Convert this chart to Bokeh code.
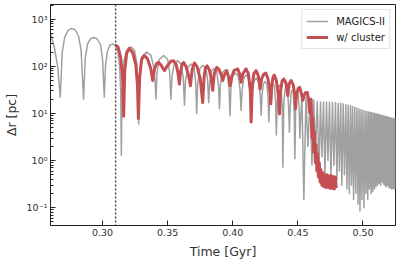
from bokeh.plotting import figure
from bokeh.models import Range1d, FixedTicker, CustomJSTickFormatter, Span, Legend
from bokeh.embed import file_html
from bokeh.resources import INLINE

# ---- data ----
gray_pts = [
    (0.2600, 480), (0.2630, 250), (0.2655, 100), (0.2675, 22),
    (0.2690, 200), (0.2710, 420), (0.2735, 580), (0.2762, 640), (0.2790, 590), (0.2815, 440), (0.2835, 220), (0.2854, 20),
    (0.2866, 140), (0.2885, 300), (0.2910, 390), (0.2935, 410), (0.2960, 380), (0.2985, 280), (0.3000, 140), (0.3013, 22),
    (0.3023, 110), (0.3038, 210), (0.3055, 280), (0.3078, 300), (0.3100, 280), (0.3118, 200), (0.3132, 90), (0.3140, 25), (0.3144, 1.3),
    (0.3150, 30), (0.3165, 130), (0.3185, 220), (0.3218, 260), (0.3245, 220), (0.3262, 120), (0.3272, 40), (0.3277, 6),
    (0.3287, 80), (0.3302, 160), (0.3338, 200), (0.3372, 170), (0.3392, 100), (0.3404, 45), (0.3410, 20),
    (0.3418, 70), (0.3435, 140), (0.3469, 170), (0.3500, 140), (0.3515, 75), (0.3525, 20),
    (0.3533, 60), (0.3550, 115), (0.3577, 132), (0.3605, 110), (0.3620, 55), (0.3629, 15),
    (0.3637, 50), (0.3655, 95), (0.3679, 112), (0.3702, 95), (0.3715, 45), (0.3723, 10),
    (0.3731, 45), (0.3748, 90), (0.3771, 105), (0.3795, 88), (0.3807, 50), (0.3815, 17),
    (0.3823, 45), (0.3838, 80), (0.3856, 90), (0.3877, 78), (0.3890, 40), (0.3898, 12.6),
    (0.3905, 40), (0.3920, 72), (0.3937, 84), (0.3958, 72), (0.3971, 35), (0.3979, 9),
    (0.3986, 35), (0.4000, 62), (0.4020, 72), (0.4042, 62), (0.4056, 32), (0.4064, 11.5),
    (0.4071, 30), (0.4085, 56), (0.4103, 66), (0.4122, 55), (0.4134, 28), (0.4141, 7.3),
    (0.4148, 26), (0.4162, 48), (0.4180, 56), (0.4200, 46), (0.4211, 24), (0.4218, 9.2),
    (0.4225, 25), (0.4235, 42), (0.4248, 48), (0.4262, 42), (0.4271, 22), (0.4277, 6.6),
    (0.4284, 22), (0.4295, 38), (0.4306, 44), (0.4320, 38), (0.4329, 18), (0.4335, 3.5),
    (0.4342, 18), (0.4350, 34), (0.4360, 40), (0.4372, 34), (0.4380, 14), (0.4385, 0.72),
    (0.4392, 15), (0.4400, 30), (0.4410, 36), (0.4421, 30), (0.4430, 12), (0.4435, 4),
    (0.4441, 14), (0.4448, 27), (0.4456, 32), (0.4465, 27), (0.4472, 11), (0.4477, 1.1),
    (0.4483, 12), (0.4490, 24), (0.4496, 28), (0.4504, 24), (0.4511, 10), (0.4515, 3),
    (0.4531, 25), (0.4546, 0.15), (0.4562, 22), (0.4577, 2), (0.4593, 20), (0.4608, 0.8),
    (0.4622, 19), (0.4635, 1.5), (0.4649, 18), (0.4662, 0.6), (0.4674, 17.5), (0.4685, 1.2),
    (0.4697, 17.5), (0.4708, 0.5), (0.4720, 17.5), (0.4731, 1.0), (0.4743, 17.5), (0.4754, 0.45),
    (0.4766, 17), (0.4777, 0.8), (0.4789, 17), (0.4800, 0.4), (0.4810, 16.5), (0.4819, 0.6),
    (0.4829, 16.5), (0.4838, 0.3), (0.4848, 16), (0.4858, 0.5), (0.4868, 15.5), (0.4877, 0.25),
    (0.4886, 15), (0.4895, 0.2), (0.4904, 14.5), (0.4912, 0.3), (0.4920, 14), (0.4928, 0.15),
    (0.4937, 13.5), (0.4945, 0.2), (0.4954, 13), (0.4962, 0.12), (0.4970, 12.5), (0.4977, 0.085),
    (0.4985, 12), (0.4992, 0.15), (0.5000, 11.6), (0.5008, 0.1), (0.5016, 11.3), (0.5023, 0.2),
    (0.5030, 11), (0.5037, 0.15), (0.5044, 10.8), (0.5050, 0.25), (0.5057, 10.6), (0.5063, 0.2),
    (0.5069, 10.4), (0.5075, 0.22), (0.5082, 10.2), (0.5088, 0.25), (0.5094, 10), (0.5100, 0.28),
    (0.5106, 9.8), (0.5112, 0.3), (0.5118, 9.6), (0.5123, 0.33), (0.5129, 9.4), (0.5135, 0.3),
    (0.5141, 9.2), (0.5146, 0.35), (0.5152, 9), (0.5157, 0.32), (0.5163, 8.8), (0.5168, 0.3),
    (0.5173, 8.6), (0.5178, 0.28), (0.5184, 8.5), (0.5189, 0.3), (0.5195, 8.3), (0.5200, 0.27),
    (0.5206, 8.2), (0.5211, 0.26), (0.5217, 8.0), (0.5222, 0.25), (0.5227, 7.9), (0.5232, 0.26),
    (0.5238, 7.8), (0.5243, 0.25), (0.5249, 7.8), (0.5254, 0.25),
]
gray_t = [p[0] for p in gray_pts]
gray_v = [p[1] for p in gray_pts]

red_pts = [
    (0.3102, 285), (0.3120, 250), (0.3140, 150), (0.3155, 50), (0.3162, 8.7),
    (0.3170, 80), (0.3185, 190), (0.3205, 240), (0.3230, 200), (0.3255, 110), (0.3268, 40), (0.3275, 7.8),
    (0.3285, 60), (0.3300, 140), (0.3321, 170), (0.3345, 145), (0.3370, 90), (0.3385, 50),
    (0.3400, 90), (0.3415, 115), (0.3431, 121), (0.3450, 105), (0.3475, 81),
    (0.3500, 105), (0.3525, 128), (0.3544, 132), (0.3565, 110), (0.3580, 70), (0.3590, 42),
    (0.3600, 80), (0.3612, 112), (0.3623, 121), (0.3640, 100), (0.3660, 65), (0.3675, 39),
    (0.3688, 85), (0.3705, 118), (0.3725, 100), (0.3750, 55), (0.3769, 17),
    (0.3780, 60), (0.3790, 92), (0.3802, 103), (0.3820, 85), (0.3835, 55), (0.3846, 31),
    (0.3858, 70), (0.3877, 95), (0.3895, 85), (0.3912, 65), (0.3923, 50),
    (0.3935, 65), (0.3954, 81), (0.3968, 60), (0.3979, 39),
    (0.3992, 60), (0.4010, 82), (0.4038, 88), (0.4052, 70), (0.4064, 46),
    (0.4078, 70), (0.4102, 88), (0.4120, 70), (0.4135, 30), (0.4141, 6.6),
    (0.4150, 40), (0.4162, 70), (0.4179, 81), (0.4195, 65), (0.4210, 33),
    (0.4222, 55), (0.4238, 68), (0.4254, 72), (0.4270, 55), (0.4285, 30), (0.4292, 16),
    (0.4300, 40), (0.4310, 60), (0.4319, 65), (0.4335, 50), (0.4350, 25), (0.4359, 9.8),
    (0.4367, 30), (0.4380, 50), (0.4392, 54), (0.4408, 45), (0.4423, 24),
    (0.4433, 42), (0.4448, 50), (0.4465, 40), (0.4476, 25), (0.4482, 12.6),
    (0.4490, 25), (0.4503, 34), (0.4513, 36), (0.4525, 28), (0.4538, 19),
    (0.4550, 25), (0.4560, 28), (0.4572, 28), (0.4582, 20), (0.4590, 10.6),
    (0.4596, 17), (0.4602, 20), (0.4609, 3), (0.4615, 8), (0.4622, 1.5), (0.4628, 4),
    (0.4634, 0.9), (0.4640, 2.2), (0.4646, 0.6), (0.4652, 1.4), (0.4658, 0.45), (0.4665, 0.9),
    (0.4671, 0.35), (0.4677, 0.65), (0.4685, 0.3), (0.4692, 0.55), (0.4700, 0.28), (0.4708, 0.5),
    (0.4716, 0.27), (0.4724, 0.5), (0.4732, 0.27), (0.4740, 0.48), (0.4748, 0.26), (0.4756, 0.48),
    (0.4764, 0.26), (0.4772, 0.46), (0.4780, 0.25), (0.4788, 0.45), (0.4795, 0.26),
]
red_t = [p[0] for p in red_pts]
red_v = [p[1] for p in red_pts]

x_ticks = [0.30, 0.35, 0.40, 0.45, 0.50]
y_ticks = [0.1, 1, 10, 100, 1000]
y_minor = [m * d for d in (0.01, 0.1, 1, 10, 100, 1000) for m in range(2, 10)]
cluster_start = 0.31

series_labels = ["MAGICS-II", "w/ cluster"]

FONT = "DejaVu Sans"

p = figure(width=399, height=261, output_backend="svg", toolbar_location=None,
           x_range=Range1d(0.26, 0.525), y_range=Range1d(0.042, 2050),
           y_axis_type="log", min_border_left=50, min_border_right=4,
           min_border_top=4, min_border_bottom=35)
p.background_fill_color = "white"
p.border_fill_color = "white"
p.outline_line_color = "#222222"
p.outline_line_width = 1
p.grid.visible = False

gray_r = p.line(gray_t, gray_v, line_color="#a0a0a0", line_width=1.5, line_join="round")
red_r = p.line(red_t, red_v, line_color="#c44e52", line_width=3, line_join="round")

span = Span(location=cluster_start, dimension="height", line_color="#444444",
            line_dash="2 2", line_width=1.4)
p.add_layout(span)

# axes
xa = p.xaxis[0]
xa.ticker = FixedTicker(ticks=x_ticks)
xa.formatter = CustomJSTickFormatter(code="return tick.toFixed(2);")
ya = p.yaxis[0]
ya.ticker = FixedTicker(ticks=y_ticks, minor_ticks=y_minor)
ya.formatter = CustomJSTickFormatter(code="""
const sup = {'-':'\u207b','0':'\u2070','1':'\u00b9','2':'\u00b2','3':'\u00b3','4':'\u2074','5':'\u2075','6':'\u2076','7':'\u2077','8':'\u2078','9':'\u2079'};
const e = Math.round(Math.log10(tick));
return '10' + String(e).split('').map(c => sup[c]).join('');
""")
for ax in (xa, ya):
    ax.axis_line_color = "#222222"
    ax.major_tick_line_color = "#222222"
    ax.minor_tick_line_color = "#222222"
    ax.major_tick_in = 5
    ax.major_tick_out = 0
    ax.minor_tick_in = 3
    ax.minor_tick_out = 0
    ax.major_label_text_font = FONT
    ax.major_label_text_font_size = "9.5px"
    ax.major_label_text_color = "#333333"
    ax.major_label_standoff = 3
    ax.axis_label_text_font = FONT
    ax.axis_label_text_font_size = "12.5px"
    ax.axis_label_text_font_style = "normal"
    ax.axis_label_text_color = "#333333"
xa.minor_tick_line_color = None
xa.axis_label = "Time [Gyr]"
xa.axis_label_standoff = 5
ya.axis_label = "\u0394r [pc]"
ya.axis_label_standoff = 5

legend = Legend(items=[(series_labels[0], [gray_r]), (series_labels[1], [red_r])],
                location="top_right")
legend.margin = 5
legend.padding = 4
legend.spacing = 2
legend.glyph_width = 22
legend.glyph_height = 14
legend.label_standoff = 8
legend.label_text_font = FONT
legend.label_text_font_size = "10px"
legend.label_text_color = "#222222"
legend.border_line_color = "#cccccc"
legend.border_line_width = 1
legend.background_fill_alpha = 0.8
p.add_layout(legend)

open("out.html", "w").write(file_html(p, INLINE))
